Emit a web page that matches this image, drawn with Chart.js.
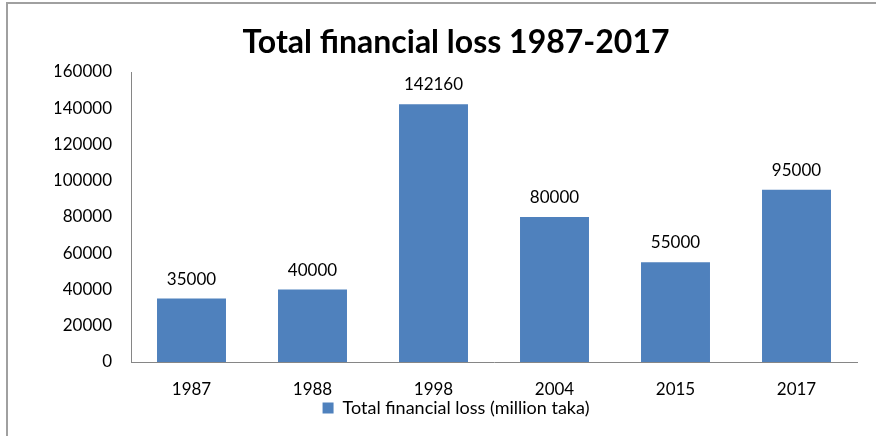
<!DOCTYPE html>
<html>
<head>
<meta charset="utf-8">
<script src="https://cdn.jsdelivr.net/npm/chart.js@4/dist/chart.umd.min.js"></script>
<style>
  html, body { margin: 0; padding: 0; background: #fff; }
  #wrap { width: 876px; height: 436px; position: relative; }
</style>
</head>
<body>
<div id="wrap"><canvas id="lossChart" width="876" height="436"></canvas></div>
<script>
  const years = ['1987', '1988', '1998', '2004', '2015', '2017'];
  const lossValues = [35000, 40000, 142160, 80000, 55000, 95000];
  const seriesName = 'Total financial loss (million taka)';
  const chartTitle = 'Total financial loss 1987-2017';
  const yMin = 0, yMax = 160000, yStep = 20000;

  const barBlue = '#4f81bd';
  const axisGray = '#868686';
  const fontFamily = 'Lato, "Open Sans", sans-serif';

  // frame round the chart, like the office export
  const framePlugin = {
    id: 'frame',
    beforeDraw(chart) {
      const ctx = chart.ctx;
      ctx.save();
      ctx.strokeStyle = '#a0a0a0';
      ctx.lineWidth = 2;
      ctx.beginPath();
      ctx.moveTo(7, 440);
      ctx.lineTo(7, 3);
      ctx.lineTo(880, 3);
      ctx.stroke();
      ctx.restore();
    }
  };

  // values above each bar
  const valueLabels = {
    id: 'valueLabels',
    afterDatasetsDraw(chart) {
      const ctx = chart.ctx;
      const meta = chart.getDatasetMeta(0);
      ctx.save();
      ctx.font = '17px ' + fontFamily;
      ctx.fillStyle = '#000';
      ctx.textAlign = 'center';
      ctx.textBaseline = 'alphabetic';
      meta.data.forEach((bar, i) => {
        ctx.fillText(String(chart.data.datasets[0].data[i]), bar.x, bar.y - 14);
      });
      ctx.restore();
    }
  };

  const ctx = document.getElementById('lossChart').getContext('2d');
  new Chart(ctx, {
    type: 'bar',
    data: {
      labels: years,
      datasets: [{
        label: seriesName,
        data: lossValues,
        backgroundColor: barBlue,
        borderWidth: 0,
        categoryPercentage: 1,
        barPercentage: 0.57
      }]
    },
    options: {
      responsive: false,
      animation: false,
      layout: { padding: { left: 55, right: 19, top: 0, bottom: 9 } },
      scales: {
        x: {
          grid: { display: false, drawTicks: false },
          border: { display: true, color: axisGray, width: 1 },
          ticks: { color: '#000', font: { family: fontFamily, size: 17, lineHeight: 1 }, padding: 19 },
          afterFit(scale) { scale.height = 35; }
        },
        y: {
          min: yMin,
          max: yMax,
          grid: { display: false, drawTicks: false },
          border: { display: true, color: axisGray, width: 1 },
          ticks: {
            stepSize: yStep,
            color: '#000',
            font: { family: fontFamily, size: 17 },
            padding: 19,
            callback: v => String(v)
          },
          afterFit(scale) { scale.width = 76; }
        }
      },
      plugins: {
        title: {
          display: true,
          text: chartTitle,
          color: '#000',
          font: { family: fontFamily, size: 32, weight: 'bold', lineHeight: 1.2 },
          padding: { top: 23, bottom: 10.6 }
        },
        legend: {
          position: 'bottom',
          labels: {
            color: '#000',
            boxWidth: 11,
            boxHeight: 11,
            padding: 2,
            font: { family: fontFamily, size: 18 }
          }
        },
        tooltip: { enabled: false }
      }
    },
    plugins: [framePlugin, valueLabels]
  });
</script>
</body>
</html>
